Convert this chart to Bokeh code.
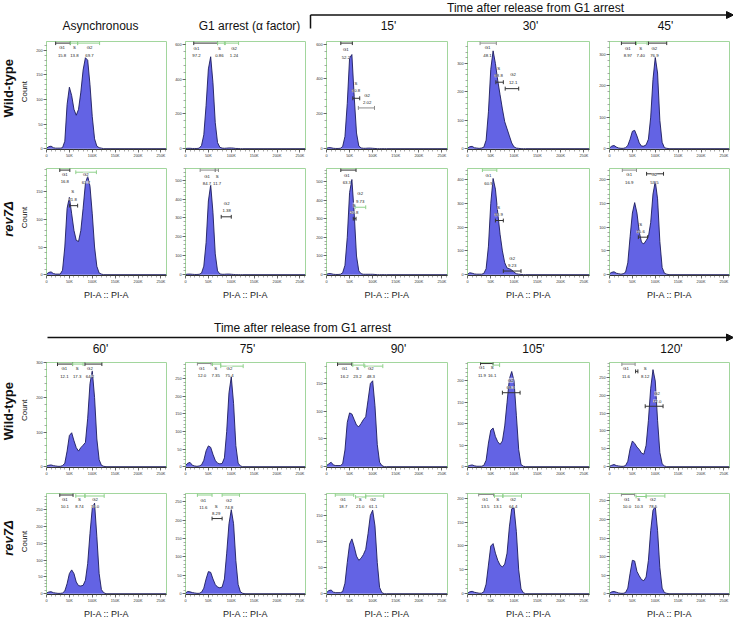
import math
from bokeh.plotting import figure
from bokeh.layouts import column, row
from bokeh.models import Range1d, FixedTicker, ColumnDataSource, LabelSet, Arrow, NormalHead
from bokeh.core.properties import value
from bokeh.embed import file_html
from bokeh.resources import INLINE

# ---------------- data ----------------
# PI-A channel (thousands) at which counts were read
X_K = [0, 5, 10, 15, 20, 25, 30, 35, 40, 45, 50, 55, 60, 65, 70, 75, 80, 85, 90, 95,
       100, 105, 110, 115, 120, 125, 130, 262]

wt_async  = [1,4,5,2,1,1,1,2,15,90,125,108,80,68,80,115,160,185,180,130,65,20,5,2,1,0,0,0]
wt_g1     = [1,2,2,1,1,1,3,18,80,250,460,530,380,150,35,8,3,2,3,4,4,3,1,1,0,0,0,0]
wt_15     = [2,6,5,2,1,1,2,12,70,260,520,540,300,90,15,4,2,2,3,3,2,1,0,0,0,0,0,0]
wt_30     = [2,7,8,3,2,1,2,5,30,130,280,345,300,240,190,140,95,70,45,20,6,2,1,0,0,0,0,0]
wt_45     = [2,8,10,5,2,1,1,3,10,30,55,58,40,18,8,8,12,30,100,220,290,240,90,20,3,1,0,0]
rev_async = [1,4,5,2,1,1,1,8,50,120,140,110,80,62,60,80,120,165,178,160,110,50,15,3,1,0,0,0]
rev_g1    = [1,3,3,2,1,1,2,8,45,170,390,475,330,110,20,4,2,2,3,3,2,1,0,0,0,0,0,0]
rev_15    = [2,6,5,2,1,1,2,10,50,200,440,510,330,100,20,5,2,2,2,2,2,1,0,0,0,0,0,0]
rev_30    = [2,8,6,3,2,2,2,5,25,120,300,405,360,260,170,100,50,28,25,20,10,4,2,1,0,0,0,0]
rev_45    = [2,5,6,3,2,1,2,5,25,80,130,152,130,90,68,65,72,80,110,170,197,160,70,15,3,1,0,0]
wt_60     = [2,4,5,3,2,1,1,3,10,45,90,98,75,55,45,55,62,70,140,240,277,200,80,20,4,1,0,0]
wt_75     = [3,10,12,4,2,1,2,5,18,45,59,55,35,18,10,8,9,25,100,210,255,180,60,10,2,0,0,0]
wt_90     = [2,5,8,3,2,2,2,5,30,80,97,95,85,75,72,78,85,90,120,150,155,110,40,8,2,0,0,0]
wt_105    = [1,3,4,2,1,1,1,3,15,55,85,90,70,58,52,60,95,150,205,222,200,120,40,5,1,0,0,0]
wt_120    = [1,4,6,3,2,1,1,3,15,50,72,65,55,48,38,35,60,130,220,272,240,130,40,8,2,0,0,0]
rev_60    = [2,5,6,3,2,1,1,2,8,30,60,71,60,35,24,23,25,40,90,180,255,270,170,60,12,3,0,0]
rev_75    = [2,6,5,3,2,1,1,4,15,40,60,58,40,25,18,16,18,40,110,190,228,190,90,25,5,1,0,0]
rev_90    = [2,6,7,3,2,2,2,4,20,60,95,105,90,72,64,68,75,85,115,150,160,130,60,12,2,0,0,0]
rev_105   = [1,4,5,3,2,1,1,4,20,60,100,105,85,70,60,56,62,85,140,178,180,130,50,10,2,0,0,0]
rev_120   = [1,5,6,4,2,1,1,3,15,55,90,88,60,48,38,35,45,90,170,225,235,170,70,15,3,1,0,0]

COUNTS = {"wt_async": wt_async, "wt_g1": wt_g1, "wt_15": wt_15, "wt_30": wt_30, "wt_45": wt_45,
          "rev_async": rev_async, "rev_g1": rev_g1, "rev_15": rev_15, "rev_30": rev_30, "rev_45": rev_45,
          "wt_60": wt_60, "wt_75": wt_75, "wt_90": wt_90, "wt_105": wt_105, "wt_120": wt_120,
          "rev_60": rev_60, "rev_75": rev_75, "rev_90": rev_90, "rev_105": rev_105, "rev_120": rev_120}

GATE_NAMES = ["G1", "S", "G2"]
GATE_PCT = {
    "wt_async": ["15.8", "13.8", "69.7"], "wt_g1": ["97.2", "0.86", "1.24"],
    "wt_15": ["52.2", "30.8", "2.02"], "wt_30": ["48.1", "38.8", "12.1"],
    "wt_45": ["8.97", "7.40", "76.9"],
    "rev_async": ["16.8", "21.8", "61.7"], "rev_g1": ["84.7", "11.7", "1.38"],
    "rev_15": ["63.3", "20.8", "9.73"], "rev_30": ["60.9", "33.9", "9.23"],
    "rev_45": ["16.9", "15.6", "53.5"],
    "wt_60": ["12.1", "17.3", "64.2"], "wt_75": ["12.0", "7.35", "75.4"],
    "wt_90": ["16.2", "23.2", "48.3"], "wt_105": ["11.9", "16.1", "68.3"],
    "wt_120": ["11.6", "8.12", "72.0"],
    "rev_60": ["10.1", "8.74", "74.0"], "rev_75": ["11.6", "8.29", "74.8"],
    "rev_90": ["18.7", "21.0", "61.1"], "rev_105": ["13.5", "13.1", "64.4"],
    "rev_120": ["10.0", "10.3", "78.5"],
}
# gate ranges on PI-A (thousands): G1, S, G2
GATE_RANGE = {
    "wt_async": [(20, 52), (52, 68), (68, 116)], "wt_g1": [(18, 70), (70, 85), (87, 116)],
    "wt_15": [(31, 56), (57, 72), (69, 104)], "wt_30": [(27, 62), (61, 77), (81, 110)],
    "wt_45": [(26, 57), (59, 82), (85, 125)],
    "rev_async": [(29, 51), (50, 68), (64, 109)], "rev_g1": [(32, 65), (65, 72), (78, 100)],
    "rev_15": [(31, 64), (58, 64), (62, 85)], "rev_30": [(32, 63), (60, 77), (77, 115)],
    "rev_45": [(28, 59), (63, 83), (81, 118)],
    "wt_60": [(24, 57), (57, 80), (84, 121)], "wt_75": [(26, 56), (59, 77), (77, 126)],
    "wt_90": [(24, 55), (57, 81), (83, 122)], "wt_105": [(28, 55), (55, 69), (75, 113)],
    "wt_120": [(27, 56), (57, 62), (78, 117)],
    "rev_60": [(29, 58), (64, 84), (84, 126)], "rev_75": [(26, 58), (58, 80), (80, 118)],
    "rev_90": [(19, 59), (63, 85), (85, 124)], "rev_105": [(24, 56), (58, 76), (76, 116)],
    "rev_120": [(26, 55), (58, 80), (80, 121)],
}
# y axis: top of range and major tick step
Y_TOP = {"wt_async": 218, "wt_g1": 618, "wt_15": 615, "wt_30": 378, "wt_45": 340,
         "rev_async": 192, "rev_g1": 562, "rev_15": 569, "rev_30": 447, "rev_45": 224,
         "wt_60": 301, "wt_75": 296, "wt_90": 188, "wt_105": 243, "wt_120": 292,
         "rev_60": 299, "rev_75": 272, "rev_90": 192, "rev_105": 210, "rev_120": 270}
Y_STEP = {"wt_async": 50, "wt_g1": 200, "wt_15": 200, "wt_30": 100, "wt_45": 100,
          "rev_async": 50, "rev_g1": 100, "rev_15": 100, "rev_30": 100, "rev_45": 50,
          "wt_60": 100, "wt_75": 50, "wt_90": 50, "wt_105": 50, "wt_120": 50,
          "rev_60": 50, "rev_75": 50, "rev_90": 50, "rev_105": 50, "rev_120": 50}
X_TICKS = [0, 50000, 100000, 150000, 200000, 250000]
X_TICK_LABELS = ["0", "50K", "100K", "150K", "200K", "250K"]

TOP_TITLES = ["Asynchronous", "G1 arrest (\u03b1 factor)", "15'", "30'", "45'"]
BOTTOM_TITLES = ["60'", "75'", "90'", "105'", "120'"]
ARROW_TITLE = "Time after release from G1 arrest"
ROW_NAMES = ["Wild-type", "rev7\u0394", "Wild-type", "rev7\u0394"]
ROWS = [["wt_async", "wt_g1", "wt_15", "wt_30", "wt_45"],
        ["rev_async", "rev_g1", "rev_15", "rev_30", "rev_45"],
        ["wt_60", "wt_75", "wt_90", "wt_105", "wt_120"],
        ["rev_60", "rev_75", "rev_90", "rev_105", "rev_120"]]

# ---------------- layout / style (not data) ----------------
# per gate: (label x in K, name y as frac of top, bar y as frac of top, colour key)
LABEL_POS = {
    "wt_async": [(34, .94, .985, 'k'), (61, .94, .985, 'g'), (94, .94, .985, 'g')],
    "wt_g1": [(24, .935, .985, 'k'), (74, .935, .985, 'g'), (106, .935, .985, 'g')],
    "wt_15": [(42, .925, .985, 'k'), (64, .61, .47, 'k'), (88, .50, .38, 'm')],
    "wt_30": [(43, .94, .985, 'm'), (67, .75, .62, 'k'), (98, .69, .56, 'k')],
    "wt_45": [(40, .935, .985, 'k'), (68, .935, .985, 'g'), (98, .935, .985, 'k')],
    "rev_async": [(40, .945, .985, 'k'), (57, .78, .65, 'k'), (86, .94, .965, 'g')],
    "rev_g1": [(47, .925, .985, 'm'), (69, .925, .985, 'm'), (90, .67, .545, 'k')],
    "rev_15": [(44, .935, .985, 'k'), (60, .655, .527, 'k'), (73, .763, .635, 'g')],
    "rev_30": [(45, .93, .985, 'g'), (67, .635, .51, 'k'), (96, .155, .034, 'k')],
    "rev_45": [(43, .94, .985, 'm'), (68, .473, .353, 'k'), (98, .94, .95, 'k')],
    "wt_60": [(39, .94, .985, 'k'), (67, .94, .985, 'g'), (95, .94, .985, 'k')],
    "wt_75": [(36, .945, .99, 'm'), (66, .945, .985, 'g'), (96, .945, .965, 'g')],
    "wt_90": [(39, .94, .985, 'k'), (67, .94, .975, 'g'), (96, .94, .965, 'g')],
    "wt_105": [(31, .95, .99, 'k'), (53, .95, .975, 'g'), (93, .83, .71, 'k')],
    "wt_120": [(36, .94, .985, 'm'), (78, .94, .915, 'k'), (104, .70, .58, 'k')],
    "rev_60": [(40, .94, .985, 'k'), (72, .94, .975, 'g'), (106, .94, .975, 'g')],
    "rev_75": [(39, .935, .985, 'g'), (67, .87, .75, 'k'), (95, .935, .985, 'g')],
    "rev_90": [(36, .94, .985, 'g'), (73, .94, .965, 'g'), (101, .94, .975, 'g')],
    "rev_105": [(38, .94, .99, 'm'), (65, .94, .975, 'g'), (98, .94, .975, 'g')],
    "rev_120": [(38, .94, .99, 'm'), (64, .94, .97, 'g'), (95, .94, .975, 'g')],
}
GATE_COLORS = {'k': "#333333", 'g': "#8fd18b", 'm': "#8c8c8c"}
FONT = "Liberation Sans"
FILL = "#6363e4"
EDGE = "#1c1c5c"
FRAME_GREEN = "#a2d69d"

COL_W = [139, 141, 141, 142, 137]
COL_BL = [12, 13, 13, 13, 13]
COL_BR = [6, 8, 7, 7, 4]
ROW_H = [127, 142, 123, 143]
ROW_BT = [8, 8, 7, 15]
ROW_BB = [10, 22, 10, 21]
ROW_Y0 = [33, 160, 355, 478]
LABEL_W = 33
HEAD1 = (0, 33)
HEAD2 = (302, 355)


def canvas(x0, x1, y0, y1):
    p = figure(width=x1 - x0, height=y1 - y0, x_range=Range1d(x0, x1), y_range=Range1d(-y1, -y0),
               x_axis_type=None, y_axis_type=None, toolbar_location=None,
               output_backend="svg", min_border=0)
    p.outline_line_color = None
    return p


def txt(p, x, y, s, size, style="normal", angle=0.0):
    p.text(x=[x], y=[-y], text=[s], text_font=value(FONT), text_font_size=size,
           text_font_style=style, text_align="center", text_baseline="middle",
           angle=angle, text_color="#111111")


def panel(key, ci, ri):
    counts = COUNTS[key]
    ytop = Y_TOP[key]
    ystep = Y_STEP[key]
    ybot = -0.008 * ytop
    w = COL_W[ci]
    h = ROW_H[ri]
    frame_h = h - ROW_BT[ri] - ROW_BB[ri]
    p = figure(width=w, height=h, x_range=Range1d(0, 262144), y_range=Range1d(ybot, ytop),
               min_border_left=COL_BL[ci], min_border_right=COL_BR[ci],
               min_border_top=ROW_BT[ri], min_border_bottom=ROW_BB[ri],
               toolbar_location=None, output_backend="svg")
    p.xgrid.visible = False
    p.ygrid.visible = False
    p.outline_line_color = FRAME_GREEN
    p.outline_line_width = 1

    xs = [k * 1000 for k in X_K]
    src = ColumnDataSource(dict(x=xs, y=counts, z=[0] * len(xs)))
    p.varea(x="x", y1="z", y2="y", source=src, fill_color=FILL)
    p.line(x="x", y="y", source=src, line_color=EDGE, line_width=0.9)

    # gates
    d = 2.0 / frame_h * (ytop - ybot)
    lx, ly, lt = [], [], []
    for gi, (g0, g1) in enumerate(GATE_RANGE[key]):
        lxk, ny, by, ck = LABEL_POS[key][gi]
        col = GATE_COLORS[ck]
        yb = by * ytop
        p.segment(x0=[g0 * 1000], y0=[yb], x1=[g1 * 1000], y1=[yb], line_color=col, line_width=1)
        p.segment(x0=[g0 * 1000, g1 * 1000], y0=[yb - d, yb - d], x1=[g0 * 1000, g1 * 1000],
                  y1=[yb + d, yb + d], line_color=col, line_width=1)
        lx += [lxk * 1000, lxk * 1000]
        ly += [ny * ytop, (ny - 0.07) * ytop]
        lt += [GATE_NAMES[gi], GATE_PCT[key][gi]]
    lsrc = ColumnDataSource(dict(x=lx, y=ly, t=lt))
    p.add_layout(LabelSet(x="x", y="y", text="t", source=lsrc, text_font=value(FONT),
                          text_font_size="4.3px", text_align="center", text_baseline="middle",
                          text_color="#1a1a1a", background_fill_color="white",
                          background_fill_alpha=0.6))

    # axes
    p.xaxis.ticker = FixedTicker(ticks=X_TICKS, minor_ticks=list(range(0, 262144, 10000)))
    p.xaxis.major_label_overrides = {t: s for t, s in zip(X_TICKS, X_TICK_LABELS)}
    yt = list(range(0, ytop + 1, ystep))
    p.yaxis.ticker = FixedTicker(ticks=yt, minor_ticks=list(range(0, ytop + 1, ystep // 5)))
    for ax in (p.xaxis[0], p.yaxis[0]):
        ax.major_label_text_font_size = "3.8px"
        ax.major_label_text_font = FONT
        ax.major_label_text_color = "#333333"
        ax.major_label_standoff = 1
        ax.major_tick_out = 3
        ax.major_tick_in = 0
        ax.minor_tick_out = 2
        ax.minor_tick_in = 0
        ax.major_tick_line_color = "#333333"
        ax.minor_tick_line_color = "#555555"
        ax.major_tick_line_width = 0.7
        ax.minor_tick_line_width = 0.5
    p.yaxis.axis_line_color = FRAME_GREEN
    p.xaxis.axis_line_color = "#333333"
    if ri in (1, 3):
        p.xaxis.axis_label = "PI-A :: PI-A"
        p.xaxis.axis_label_text_font = FONT
        p.xaxis.axis_label_text_font_size = "9px"
        p.xaxis.axis_label_text_font_style = "normal"
        p.xaxis.axis_label_text_color = "#222222"
        p.xaxis.axis_label_standoff = 3
    return p


# ---------------- headers ----------------
head1 = canvas(0, 733, HEAD1[0], HEAD1[1])
txt(head1, 535, 7, ARROW_TITLE, "12px")
head1.add_layout(Arrow(end=NormalHead(size=7, fill_color="#111111", line_color="#111111"),
                       x_start=310, y_start=-14.5, x_end=733, y_end=-14.5,
                       line_color="#111111", line_width=1.5))
head1.segment(x0=[310], y0=[-14.5], x1=[310], y1=[-28], line_color="#111111", line_width=1.5)
for s, x in zip(TOP_TITLES, [100, 249, 388, 530, 665]):
    txt(head1, x, 25, s, "12px")

head2 = canvas(0, 733, HEAD2[0], HEAD2[1])
txt(head2, 302, 327, ARROW_TITLE, "12px")
head2.add_layout(Arrow(end=NormalHead(size=7, fill_color="#111111", line_color="#111111"),
                       x_start=47, y_start=-337, x_end=733, y_end=-337,
                       line_color="#111111", line_width=1.5))
for s, x in zip(BOTTOM_TITLES, [100, 247, 398, 533, 671]):
    txt(head2, x, 348, s, "12px")

# ---------------- rows ----------------
LABEL_Y = [(88, 92), (227, 225), (412, 411), (541, 546)]
rows = []
for ri, keys in enumerate(ROWS):
    y0 = ROW_Y0[ri]
    lab = canvas(0, LABEL_W, y0, y0 + ROW_H[ri])
    style = "bold" if ri in (0, 2) else "bold italic"
    txt(lab, 8, LABEL_Y[ri][0], ROW_NAMES[ri], "13px", style=style, angle=math.pi / 2)
    txt(lab, 24, LABEL_Y[ri][1], "Count", "8px", angle=math.pi / 2)
    figs = [lab] + [panel(k, ci, ri) for ci, k in enumerate(keys)]
    rows.append(row(*figs, spacing=0))

layout = column(head1, rows[0], rows[1], head2, rows[2], rows[3], spacing=0)
open("out.html", "w").write(file_html(layout, INLINE))
